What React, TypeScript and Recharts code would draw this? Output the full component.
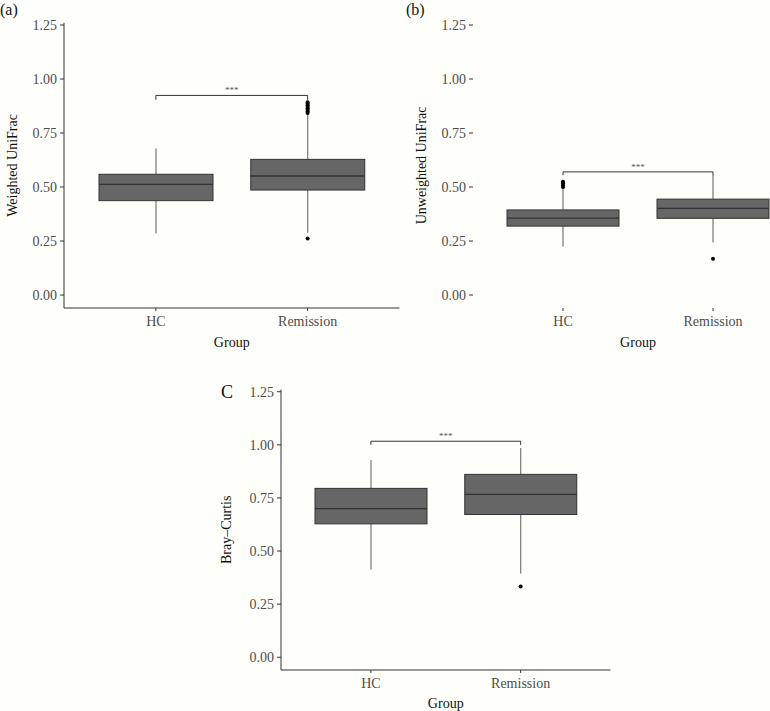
import { ComposedChart, Bar, XAxis, YAxis, Line, ReferenceLine } from "recharts";

const groups = ["HC", "Remission"];
const yTicks = [0, 0.25, 0.5, 0.75, 1, 1.25];

// [whisker low, q1, median, q3, whisker high]
const weightedHC = [0.286, 0.437, 0.512, 0.559, 0.679];
const weightedRem = [0.288, 0.486, 0.551, 0.628, 0.838];
const weightedOutHC: number[] = [];
const weightedOutRem = [0.262, 0.843, 0.85, 0.857, 0.864, 0.871, 0.878, 0.885, 0.892];
const weightedBracket = 0.924;

const unweightedHC = [0.224, 0.319, 0.356, 0.394, 0.495];
const unweightedRem = [0.244, 0.355, 0.401, 0.444, 0.556];
const unweightedOutHC = [0.5, 0.508, 0.516, 0.524];
const unweightedOutRem = [0.168];
const unweightedBracket = 0.57;

const brayHC = [0.413, 0.628, 0.7, 0.795, 0.928];
const brayRem = [0.394, 0.672, 0.767, 0.861, 0.985];
const brayOutHC: number[] = [];
const brayOutRem = [0.333];
const brayBracket = 1.017;

const INK = "#333333";
const FONT = "'Liberation Serif', 'Times New Roman', serif";

function buildRows(stats: number[][], outliers: number[][]) {
  return groups.map((g, i) => {
    const row: any = { group: g, box: [stats[i][1], stats[i][3]], stats: stats[i] };
    outliers[i].forEach((v, k) => {
      row["o" + k] = v;
    });
    return row;
  });
}

function BoxShape(props: any) {
  const { x, y, width, height, payload } = props;
  const [lo, q1, med, q3, hi] = payload.stats;
  const top = Math.min(y, y + height);
  const h = Math.abs(height);
  const ppu = h / (q3 - q1);
  const py = (v: number) => top + (q3 - v) * ppu;
  const cx = x + width / 2;
  return (
    <g>
      <line x1={cx} x2={cx} y1={py(hi)} y2={top} stroke={INK} strokeWidth={0.8} />
      <line x1={cx} x2={cx} y1={top + h} y2={py(lo)} stroke={INK} strokeWidth={0.8} />
      <rect x={x} y={top} width={width} height={h} fill="#666666" stroke={INK} strokeWidth={1} />
      <line x1={x} x2={x + width} y1={py(med)} y2={py(med)} stroke={INK} strokeWidth={1.3} />
    </g>
  );
}

function XTick(props: any) {
  const { x, y, payload } = props;
  return (
    <text x={x} y={y} dy="0.71em" textAnchor="middle" fontSize={14} fontFamily={FONT} fill="#4d4d4d">
      {payload.value}
    </text>
  );
}

function YTick(props: any) {
  const { x, y, payload } = props;
  return (
    <text x={x} y={y} dy="0.355em" textAnchor="end" fontSize={14} fontFamily={FONT} fill="#4d4d4d">
      {Number(payload.value).toFixed(2)}
    </text>
  );
}

function yTitle(text: string, cx: number) {
  return (props: any) => {
    const vb = props.viewBox;
    const cy = vb.y + vb.height / 2;
    return (
      <text
        x={cx}
        y={cy}
        transform={`rotate(-90, ${cx}, ${cy})`}
        textAnchor="middle"
        dominantBaseline="central"
        fontSize={14}
        fontFamily={FONT}
        fill="#111"
      >
        {text}
      </text>
    );
  };
}

function xTitle(text: string, cy: number) {
  return (props: any) => {
    const vb = props.viewBox;
    return (
      <text
        x={vb.x + vb.width / 2}
        y={cy}
        textAnchor="middle"
        dominantBaseline="central"
        fontSize={14}
        fontFamily={FONT}
        fill="#111"
      >
        {text}
      </text>
    );
  };
}

function StarLabel(props: any) {
  const vb = props.viewBox;
  return (
    <text
      x={vb.x + vb.width / 2}
      y={vb.y - 2}
      textAnchor="middle"
      fontSize={9}
      fontFamily={FONT}
      fill="#555"
    >
      ***
    </text>
  );
}

type PanelProps = {
  left: number;
  top: number;
  width: number;
  height: number;
  margin: { top: number; right: number; bottom: number; left: number };
  xHeight: number;
  pad: number;
  barSize: number;
  stats: number[][];
  outliers: number[][];
  bracket: number;
  tip: number;
  yLabel: string;
  yLabelX: number;
  xLabelY: number;
  axisLine: boolean;
};

function Panel(p: PanelProps) {
  const rows = buildRows(p.stats, p.outliers);
  const nOut = Math.max(...p.outliers.map((o) => o.length));
  const outKeys = Array.from({ length: nOut }, (_, k) => "o" + k);
  return (
    <div style={{ position: "absolute", left: p.left, top: p.top }}>
      <ComposedChart
        width={p.width}
        height={p.height}
        data={rows}
        margin={p.margin}
        style={{ fontFamily: FONT }}
      >
        <XAxis
          dataKey="group"
          type="category"
          height={p.xHeight}
          padding={{ left: p.pad, right: p.pad }}
          axisLine={p.axisLine ? { stroke: INK } : false}
          tickLine={{ stroke: INK }}
          tickSize={3}
          tickMargin={5}
          tick={XTick}
          label={xTitle("Group", p.xLabelY)}
        />
        <YAxis
          type="number"
          domain={[-0.06, 1.26]}
          ticks={yTicks}
          interval={0}
          allowDataOverflow
          width={60}
          axisLine={p.axisLine ? { stroke: INK } : false}
          tickLine={{ stroke: INK }}
          tickSize={4}
          tickMargin={3}
          tick={YTick}
          label={yTitle(p.yLabel, p.yLabelX)}
        />
        <Bar dataKey="box" barSize={p.barSize} shape={BoxShape} isAnimationActive={false} />
        {outKeys.map((k) => (
          <Line
            key={k}
            dataKey={k}
            stroke="none"
            dot={{ r: 2, fill: "#000", stroke: "none" }}
            activeDot={false}
            isAnimationActive={false}
          />
        ))}
        <ReferenceLine
          segment={[
            { x: groups[0], y: p.bracket },
            { x: groups[1], y: p.bracket },
          ]}
          stroke={INK}
          strokeWidth={1}
          ifOverflow="visible"
          label={StarLabel}
        />
        <ReferenceLine
          segment={[
            { x: groups[0], y: p.bracket },
            { x: groups[0], y: p.bracket - p.tip },
          ]}
          stroke={INK}
          strokeWidth={1}
          ifOverflow="visible"
        />
        <ReferenceLine
          segment={[
            { x: groups[1], y: p.bracket },
            { x: groups[1], y: p.bracket - p.tip },
          ]}
          stroke={INK}
          strokeWidth={1}
          ifOverflow="visible"
        />
      </ComposedChart>
    </div>
  );
}

export default function App() {
  return (
    <div
      style={{
        position: "absolute",
        left: 0,
        top: 0,
        width: 770,
        height: 711,
        overflow: "hidden",
        background: "#fefefa",
        fontFamily: FONT,
      }}
    >
      <Panel
        left={0}
        top={0}
        width={400}
        height={360}
        margin={{ top: 22.84, right: 0.5, bottom: 0, left: 4 }}
        xHeight={52}
        pad={16}
        barSize={114}
        stats={[weightedHC, weightedRem]}
        outliers={[weightedOutHC, weightedOutRem]}
        bracket={weightedBracket}
        tip={0.02}
        yLabel="Weighted UniFrac"
        yLabelX={13}
        xLabelY={342}
        axisLine={true}
      />
      <Panel
        left={413.3}
        top={0}
        width={390}
        height={360}
        margin={{ top: 22.84, right: 0, bottom: 0, left: 0 }}
        xHeight={52}
        pad={15}
        barSize={112}
        stats={[unweightedHC, unweightedRem]}
        outliers={[unweightedOutHC, unweightedOutRem]}
        bracket={unweightedBracket}
        tip={0.015}
        yLabel="Unweighted UniFrac"
        yLabelX={8.4}
        xLabelY={342}
        axisLine={false}
      />
      <Panel
        left={200}
        top={370}
        width={410.5}
        height={341}
        margin={{ top: 19.6, right: 0, bottom: 0, left: 21 }}
        xHeight={41}
        pad={15}
        barSize={112}
        stats={[brayHC, brayRem]}
        outliers={[brayOutHC, brayOutRem]}
        bracket={brayBracket}
        tip={0.017}
        yLabel="Bray–Curtis"
        yLabelX={27}
        xLabelY={333}
        axisLine={true}
      />
      <svg
        width={770}
        height={711}
        style={{ position: "absolute", left: 0, top: 0, pointerEvents: "none", fontFamily: FONT }}
      >
        <text x={0} y={15} fontSize={16} fill="#111">(a)</text>
        <text x={406} y={15} fontSize={16} fill="#111">(b)</text>
        <text x={221} y={398} fontSize={18} fill="#111">C</text>
      </svg>
    </div>
  );
}
